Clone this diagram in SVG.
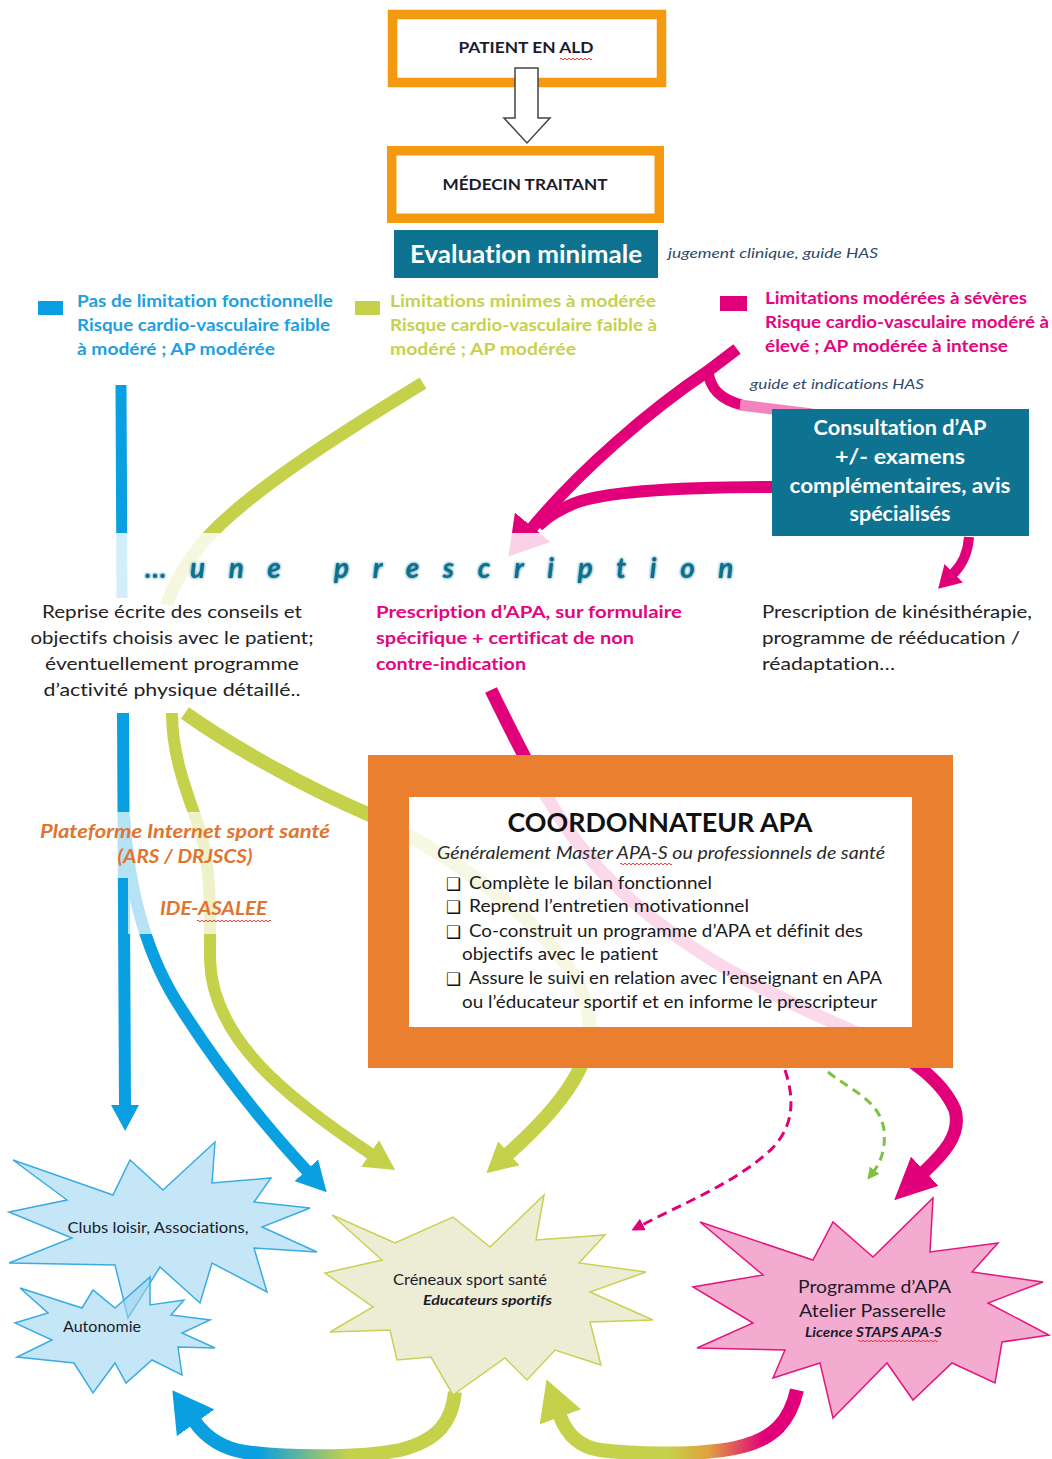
<svg xmlns="http://www.w3.org/2000/svg" width="1052" height="1459" viewBox="0 0 1052 1459">
<defs>
<style>
text{font-family:Lato,'Liberation Sans',sans-serif;font-variant-ligatures:none;}
.b{font-weight:700}
.i{font-style:italic}
.sym{font-family:'DejaVu Sans',sans-serif}
.box{fill:#fff;stroke:#F49A10;stroke-width:9.5}
.teal{fill:#0E7391}
.ln{fill:none;stroke-linecap:butt;stroke-linejoin:round}
.blue{stroke:#0A9FE0}
.green{stroke:#C5D14A}
.mag{stroke:#E2007A}
.wavy{fill:none;stroke:#E23A3A;stroke-width:1}
.dark{fill:#1B1B2B}
</style>
<marker id="aBlue" markerUnits="userSpaceOnUse" markerWidth="26" markerHeight="28" viewBox="0 0 26 28" refX="1" refY="14" orient="auto"><path d="M0,0 L26,14 L0,28 z" fill="#0A9FE0"/></marker>
<marker id="aBlue2" markerUnits="userSpaceOnUse" markerWidth="30" markerHeight="32" viewBox="0 0 30 32" refX="1" refY="16" orient="auto"><path d="M0,0 L30,16 L0,32 z" fill="#0A9FE0"/></marker>
<marker id="aBlueBig" markerUnits="userSpaceOnUse" markerWidth="40" markerHeight="46" viewBox="0 0 40 46" refX="1" refY="23" orient="auto"><path d="M0,0 L40,23 L0,46 z" fill="#0A9FE0"/></marker>
<marker id="aGreen" markerUnits="userSpaceOnUse" markerWidth="30" markerHeight="32" viewBox="0 0 30 32" refX="1" refY="16" orient="auto"><path d="M0,0 L30,16 L0,32 z" fill="#C5D14A"/></marker>
<marker id="aGreenBig" markerUnits="userSpaceOnUse" markerWidth="40" markerHeight="44" viewBox="0 0 40 44" refX="1" refY="22" orient="auto"><path d="M0,0 L40,22 L0,44 z" fill="#C5D14A"/></marker>
<marker id="aMagBig" markerUnits="userSpaceOnUse" markerWidth="38" markerHeight="46" viewBox="0 0 38 46" refX="1" refY="23" orient="auto"><path d="M0,0 L38,23 L0,46 z" fill="#E2007A"/></marker>
<marker id="aMagMid" markerUnits="userSpaceOnUse" markerWidth="42" markerHeight="40" viewBox="0 0 42 40" refX="1" refY="20" orient="auto"><path d="M0,0 L42,20 L0,40 z" fill="#E2007A"/></marker>
<marker id="aMagSm" markerUnits="userSpaceOnUse" markerWidth="22" markerHeight="26" viewBox="0 0 22 26" refX="1" refY="13" orient="auto"><path d="M0,0 L22,13 L0,26 z" fill="#E2007A"/></marker>
<marker id="aDash" markerUnits="userSpaceOnUse" markerWidth="13" markerHeight="13" viewBox="0 0 13 13" refX="1" refY="6.5" orient="auto"><path d="M0,0 L13,6.5 L0,13 z" fill="#E2007A"/></marker>
<marker id="aDashG" markerUnits="userSpaceOnUse" markerWidth="12" markerHeight="12" viewBox="0 0 12 12" refX="1" refY="6" orient="auto"><path d="M0,0 L12,6 L0,12 z" fill="#7DC241"/></marker>
<linearGradient id="gBG" gradientUnits="userSpaceOnUse" x1="460" y1="0" x2="180" y2="0">
<stop offset="0.40" stop-color="#C5D14A"/><stop offset="0.72" stop-color="#0A9FE0"/>
</linearGradient>
<linearGradient id="gMG" gradientUnits="userSpaceOnUse" x1="560" y1="0" x2="800" y2="0">
<stop offset="0.45" stop-color="#C5D14A"/><stop offset="0.62" stop-color="#E0A040"/><stop offset="0.85" stop-color="#E2007A"/>
</linearGradient>
<filter id="glow" x="-5%" y="-30%" width="110%" height="160%">
<feGaussianBlur in="SourceGraphic" stdDeviation="1.4" result="b"/>
<feMerge><feMergeNode in="b"/><feMergeNode in="SourceGraphic"/></feMerge>
</filter>
</defs>
<rect width="1052" height="1459" fill="#fff"/>

<g id="patient">
<rect class="box" x="392.5" y="14.5" width="269" height="68"/>
<text class="b dark" x="526" y="53" font-size="15.5" text-anchor="middle" textLength="135" lengthAdjust="spacingAndGlyphs">PATIENT EN ALD</text>
<path class="wavy" d="M560,59 q1,-1.6 2,0 t2,0 t2,0 t2,0 t2,0 t2,0 t2,0 t2,0 t2,0 t2,0 t2,0 t2,0 t2,0 t2,0 t2,0 t2,0"/>
</g>
<g id="medecin">
<rect class="box" x="391.75" y="150.75" width="267.5" height="67.5"/>
<text class="b dark" x="525" y="190" font-size="15.5" text-anchor="middle" textLength="165" lengthAdjust="spacingAndGlyphs">MÉDECIN TRAITANT</text>
</g>

<g id="connectors">
<polygon points="515,68 538,68 538,118 550,118 527,143 504,118 515,118" fill="#fff" stroke="#444" stroke-width="1.5"/>
<path class="ln blue" stroke-width="11" d="M121,385 L122,598"/>
<path class="ln blue" stroke-width="12" d="M123,713 L125,1106" marker-end="url(#aBlue)"/>
<path class="ln blue" stroke-width="12" d="M124,815 C128,880 142,950 182,1010 C217,1065 260,1120 307,1171" marker-end="url(#aBlue2)"/>
<path class="ln green" stroke-width="13" d="M423,383 C330,440 245,495 205,540 C185,565 172,585 167,605"/>
<path class="ln green" stroke-width="12" d="M172,713 C172,760 190,800 200,830 C212,870 210,920 210,960 C212,1040 290,1100 371,1154" marker-end="url(#aGreen)"/>
<path class="ln green" stroke-width="14" d="M185,713 C230,745 300,785 370,815 C460,860 560,930 585,1000 C600,1045 580,1090 508,1154" marker-end="url(#aGreen)"/>
<path class="ln mag" stroke-width="12" d="M737,349 L708,371 C650,410 580,470 532,528" marker-end="url(#aMagBig)"/>
<path class="ln mag" stroke-width="12" d="M775,487 C700,487 610,490 575,503 C558,510 546,518 538,526"/>
<path class="ln mag" stroke-width="11" d="M708,371 C710,390 722,400 742,405"/>
<path class="ln" stroke="#F283BC" stroke-width="11" d="M740,405 L812,414"/>
<path class="ln mag" stroke-width="10" d="M969,537 C968,552 962,565 953,574" marker-end="url(#aMagSm)"/>
<path class="ln mag" stroke-width="13" d="M491,690 C530,770 560,830 610,880 C680,950 760,990 850,1030 C900,1050 940,1075 955,1110 C962,1135 942,1155 924,1172" marker-end="url(#aMagMid)"/>
<path class="ln mag" stroke-width="3" stroke-dasharray="10 6" d="M785,1070 C795,1100 795,1130 765,1155 C730,1185 680,1205 642,1225" marker-end="url(#aDash)"/>
<path class="ln" stroke="#7DC241" stroke-width="3" stroke-dasharray="9 6" d="M828,1072 C850,1090 880,1100 884,1130 C886,1150 880,1163 874,1171" marker-end="url(#aDashG)"/>
<path class="ln" stroke="url(#gBG)" stroke-width="14" d="M455,1392 C452,1420 440,1440 400,1450 C360,1458 290,1458 245,1452 C220,1448 205,1436 195,1422" marker-end="url(#aBlueBig)"/>
<path class="ln" stroke="url(#gMG)" stroke-width="14" d="M797,1390 C790,1420 775,1440 735,1448 C700,1455 640,1455 600,1450 C580,1447 567,1435 560,1416" marker-end="url(#aGreenBig)"/>
</g>

<g id="fades">
<rect x="98" y="533" width="490" height="75" fill="#fff" opacity="0.82"/>
<rect x="36" y="812" width="300" height="66" fill="#fff" opacity="0.7"/>
<rect x="128" y="878" width="150" height="56" fill="#fff" opacity="0.7"/>
</g>

<g id="evaluation">
<rect class="teal" x="394" y="230" width="264" height="48"/>
<text class="b" x="526" y="263" font-size="24" fill="#fff" text-anchor="middle" textLength="232" lengthAdjust="spacingAndGlyphs">Evaluation minimale</text>
</g>
<g id="note-jugement">
<text class="i" x="668" y="258" font-size="14" fill="#2E4A6B" textLength="210" lengthAdjust="spacingAndGlyphs">jugement clinique, guide HAS</text>
</g>

<g id="legend-blue">
<rect x="38" y="301" width="25" height="14" fill="#0A9FE0"/>
<text class="b" x="77" y="307" font-size="17" fill="#1EA0E0" textLength="256" lengthAdjust="spacingAndGlyphs">Pas de limitation fonctionnelle</text>
<text class="b" x="77" y="331" font-size="17" fill="#1EA0E0" textLength="253" lengthAdjust="spacingAndGlyphs">Risque cardio-vasculaire faible</text>
<text class="b" x="77" y="355" font-size="17" fill="#1EA0E0" textLength="198" lengthAdjust="spacingAndGlyphs">à modéré ; AP modérée</text>
</g>
<g id="legend-green">
<rect x="355" y="301" width="25" height="14" fill="#C5D14A"/>
<text class="b" x="390" y="307" font-size="17" fill="#C6D14E" textLength="266" lengthAdjust="spacingAndGlyphs">Limitations minimes à modérée</text>
<text class="b" x="390" y="331" font-size="17" fill="#C6D14E" textLength="267" lengthAdjust="spacingAndGlyphs">Risque cardio-vasculaire faible à</text>
<text class="b" x="390" y="355" font-size="17" fill="#C6D14E" textLength="186" lengthAdjust="spacingAndGlyphs">modéré ; AP modérée</text>
</g>
<g id="legend-magenta">
<rect x="720" y="296" width="27" height="15" fill="#E2007A"/>
<text class="b" x="765" y="304" font-size="17" fill="#E3067E" textLength="262" lengthAdjust="spacingAndGlyphs">Limitations modérées à sévères</text>
<text class="b" x="765" y="328" font-size="17" fill="#E3067E" textLength="284" lengthAdjust="spacingAndGlyphs">Risque cardio-vasculaire modéré à</text>
<text class="b" x="765" y="352" font-size="17" fill="#E3067E" textLength="243" lengthAdjust="spacingAndGlyphs">élevé ; AP modérée à intense</text>
</g>
<g id="note-guide">
<text class="i" x="750" y="389" font-size="14" fill="#2E4A6B" textLength="174" lengthAdjust="spacingAndGlyphs">guide et indications HAS</text>
</g>

<g id="consultation">
<rect class="teal" x="772" y="409" width="257" height="127"/>
<text class="b" x="900" y="435" font-size="20" fill="#fff" text-anchor="middle" textLength="173" lengthAdjust="spacingAndGlyphs">Consultation d’AP</text>
<text class="b" x="900" y="464" font-size="20" fill="#fff" text-anchor="middle" textLength="130" lengthAdjust="spacingAndGlyphs">+/- examens</text>
<text class="b" x="900" y="493" font-size="20" fill="#fff" text-anchor="middle" textLength="221" lengthAdjust="spacingAndGlyphs">complémentaires, avis</text>
<text class="b" x="900" y="521" font-size="20" fill="#fff" text-anchor="middle" textLength="101" lengthAdjust="spacingAndGlyphs">spécialisés</text>
</g>

<g id="prescription-title">
<text class="b i" x="145" y="578" font-size="28" fill="#0F6F8E" filter="url(#glow)">…</text>
<text class="b i" x="190" y="578" font-size="28" fill="#0F6F8E" letter-spacing="23.5" filter="url(#glow)">une prescription</text>
</g>

<g id="conseils">
<text x="172" y="618" font-size="17" fill="#222" text-anchor="middle" textLength="260" lengthAdjust="spacingAndGlyphs">Reprise écrite des conseils et</text>
<text x="172" y="644" font-size="17" fill="#222" text-anchor="middle" textLength="283" lengthAdjust="spacingAndGlyphs">objectifs choisis avec le patient;</text>
<text x="172" y="670" font-size="17" fill="#222" text-anchor="middle" textLength="254" lengthAdjust="spacingAndGlyphs">éventuellement programme</text>
<text x="172" y="696" font-size="17" fill="#222" text-anchor="middle" textLength="257" lengthAdjust="spacingAndGlyphs">d’activité physique détaillé..</text>
</g>
<g id="prescription-apa">
<text class="b" x="376" y="618" font-size="17" fill="#E3067E" textLength="306" lengthAdjust="spacingAndGlyphs">Prescription d’APA, sur formulaire</text>
<text class="b" x="376" y="644" font-size="17" fill="#E3067E" textLength="258" lengthAdjust="spacingAndGlyphs">spécifique + certificat de non</text>
<text class="b" x="376" y="670" font-size="17" fill="#E3067E" textLength="150" lengthAdjust="spacingAndGlyphs">contre-indication</text>
</g>
<g id="kine">
<text x="762" y="618" font-size="17" fill="#222" textLength="270" lengthAdjust="spacingAndGlyphs">Prescription de kinésithérapie,</text>
<text x="762" y="644" font-size="17" fill="#222" textLength="258" lengthAdjust="spacingAndGlyphs">programme de rééducation /</text>
<text x="762" y="670" font-size="17" fill="#222" textLength="133" lengthAdjust="spacingAndGlyphs">réadaptation…</text>
</g>

<g id="plateforme">
<text class="b i" x="185" y="838" font-size="18" fill="#E07430" text-anchor="middle" textLength="290" lengthAdjust="spacingAndGlyphs">Plateforme Internet sport santé</text>
<text class="b i" x="185" y="863" font-size="18" fill="#E07430" text-anchor="middle" textLength="135" lengthAdjust="spacingAndGlyphs">(ARS / DRJSCS)</text>
</g>
<g id="ide-asalee">
<text class="b i" x="160" y="915" font-size="18" fill="#E07430" textLength="107" lengthAdjust="spacingAndGlyphs">IDE-ASALEE</text>
<path class="wavy" d="M197,921 q1,-1.6 2,0 t2,0 t2,0 t2,0 t2,0 t2,0 t2,0 t2,0 t2,0 t2,0 t2,0 t2,0 t2,0 t2,0 t2,0 t2,0 t2,0 t2,0 t2,0 t2,0 t2,0 t2,0 t2,0 t2,0 t2,0 t2,0 t2,0 t2,0 t2,0 t2,0 t2,0 t2,0 t2,0 t2,0 t2,0 t2,0 t2,0"/>
</g>

<g id="coordonnateur">
<path d="M368,755H953V1068H368Z M409,797V1027H912V797Z" fill="#E97F2F" fill-rule="evenodd"/>
<rect x="409" y="797" width="503" height="230" fill="#fff" opacity="0.85"/>
<text class="b" x="660" y="832" font-size="27" fill="#111" text-anchor="middle" textLength="305" lengthAdjust="spacingAndGlyphs">COORDONNATEUR APA</text>
<text class="i" x="661" y="859" font-size="17" fill="#2A2A2A" text-anchor="middle" textLength="448" lengthAdjust="spacingAndGlyphs">Généralement Master APA-S ou professionnels de santé</text>
<path class="wavy" d="M620,864 q1,-1.6 2,0 t2,0 t2,0 t2,0 t2,0 t2,0 t2,0 t2,0 t2,0 t2,0 t2,0 t2,0 t2,0 t2,0 t2,0 t2,0 t2,0 t2,0 t2,0 t2,0 t2,0 t2,0 t2,0 t2,0 t2,0 t2,0"/>
<text class="sym" x="446" y="890" font-size="17" fill="#111">❑</text>
<text class="sym" x="446" y="913" font-size="17" fill="#111">❑</text>
<text class="sym" x="446" y="938" font-size="17" fill="#111">❑</text>
<text class="sym" x="446" y="985" font-size="17" fill="#111">❑</text>
<text x="469" y="889" font-size="16.5" fill="#1A1A1A" textLength="243" lengthAdjust="spacingAndGlyphs">Complète le bilan fonctionnel</text>
<text x="469" y="912" font-size="16.5" fill="#1A1A1A" textLength="280" lengthAdjust="spacingAndGlyphs">Reprend l’entretien motivationnel</text>
<text x="469" y="937" font-size="16.5" fill="#1A1A1A" textLength="394" lengthAdjust="spacingAndGlyphs">Co-construit un programme d’APA et définit des</text>
<text x="462" y="960" font-size="16.5" fill="#1A1A1A" textLength="196" lengthAdjust="spacingAndGlyphs">objectifs avec le patient</text>
<text x="469" y="984" font-size="16.5" fill="#1A1A1A" textLength="413" lengthAdjust="spacingAndGlyphs">Assure le suivi en relation avec l’enseignant en APA</text>
<text x="462" y="1008" font-size="16.5" fill="#1A1A1A" textLength="415" lengthAdjust="spacingAndGlyphs">ou l’éducateur sportif et en informe le prescripteur</text>
</g>

<g id="clubs">
<polygon points="13,1160 113,1195 130,1160 163,1190 215,1142 212,1183 271,1178 254,1202 310,1208 262,1227 317,1252 254,1248 267,1292 212,1263 200,1303 160,1267 128,1318 115,1265 9,1263 72,1238 9,1212 67,1200" fill="#9FD5F0" fill-opacity="0.6" stroke="#3AACE2" stroke-width="1.5"/>
<text x="158" y="1233" font-size="14.5" class="dark" text-anchor="middle" textLength="181" lengthAdjust="spacingAndGlyphs">Clubs loisir, Associations,</text>
</g>
<g id="autonomie">
<polygon points="20,1288 82,1308 93,1290 115,1308 150,1277 150,1305 184,1300 171,1315 210,1320 182,1333 215,1348 178,1347 182,1375 152,1360 126,1383 115,1363 93,1393 74,1363 17,1357 52,1340 15,1323 48,1313" fill="#9FD5F0" fill-opacity="0.6" stroke="#3AACE2" stroke-width="1.5"/>
<text x="63" y="1332" font-size="14.5" class="dark" textLength="78" lengthAdjust="spacingAndGlyphs">Autonomie</text>
</g>
<g id="creneaux">
<polygon points="332,1215 395,1243 453,1217 490,1247 544,1195 536,1240 605,1235 579,1263 646,1272 590,1292 653,1320 590,1322 601,1365 555,1350 527,1380 505,1358 453,1395 431,1357 397,1360 390,1330 330,1332 373,1307 325,1273 382,1260" fill="#EDEDD6" stroke="#C8D152" stroke-width="1.5"/>
<text x="393" y="1285" font-size="15.5" class="dark" textLength="154" lengthAdjust="spacingAndGlyphs">Créneaux sport santé</text>
<text class="b i dark" x="423" y="1305" font-size="13" textLength="129" lengthAdjust="spacingAndGlyphs">Educateurs sportifs</text>
</g>
<g id="programme">
<polygon points="700,1222 813,1260 833,1222 873,1257 933,1198 930,1252 998,1243 972,1272 1043,1282 988,1303 1049,1335 1002,1342 995,1383 952,1363 913,1400 887,1363 833,1418 820,1363 773,1378 785,1350 697,1348 753,1323 693,1287 763,1275" fill="#F4ABD0" stroke="#E4157F" stroke-width="1.5"/>
<text x="798" y="1293" font-size="17.5" class="dark" textLength="153" lengthAdjust="spacingAndGlyphs">Programme d’APA</text>
<text x="799" y="1317" font-size="17.5" class="dark" textLength="147" lengthAdjust="spacingAndGlyphs">Atelier Passerelle</text>
<text class="b i dark" x="805" y="1337" font-size="14" textLength="137" lengthAdjust="spacingAndGlyphs">Licence STAPS APA-S</text>
<path class="wavy" d="M858,1341 q1,-1.6 2,0 t2,0 t2,0 t2,0 t2,0 t2,0 t2,0 t2,0 t2,0 t2,0 t2,0 t2,0 t2,0 t2,0 t2,0 t2,0 t2,0 t2,0 t2,0 t2,0 t2,0 t2,0 t2,0 t2,0 t2,0 t2,0 t2,0 t2,0 t2,0 t2,0 t2,0 t2,0 t2,0 t2,0 t2,0 t2,0 t2,0 t2,0 t2,0 t2,0"/>
</g>
</svg>
